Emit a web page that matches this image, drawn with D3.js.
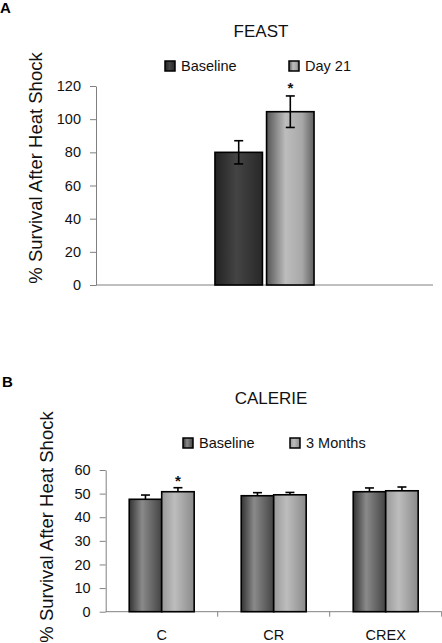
<!DOCTYPE html>
<html><head><meta charset="utf-8">
<script src="https://cdn.jsdelivr.net/npm/d3@7"></script>
<style>body{margin:0;background:#fff}svg{display:block;font-family:"Liberation Sans",Arial,sans-serif}</style>
</head><body><svg id="c" width="442" height="643"></svg>
<script>
// ---- Data ----
const feastCategories = ["FEAST"];
const feastSeries = ["Baseline", "Day 21"];
const feastValues = [[80.0, 104.5]];
const feastErrors = [[7.0, 9.5]];
const feastStars = [[false, true]];
const feastTicks = [0, 20, 40, 60, 80, 100, 120];

const calerieCategories = ["C", "CR", "CREX"];
const calerieSeries = ["Baseline", "3 Months"];
const calerieValues = [[47.6, 50.8], [49.1, 49.5], [50.8, 51.2]];
const calerieErrors = [[1.8, 1.7], [1.3, 1.0], [1.6, 1.6]];
const calerieStars = [[false, true], [false, false], [false, false]];
const calerieTicks = [0, 10, 20, 30, 40, 50, 60];

const svg = d3.select("#c");
const defs = svg.append("defs");
function grad(id, stops) {
  const g = defs.append("linearGradient").attr("id", id).attr("x1", "0%").attr("x2", "100%").attr("y1", "0%").attr("y2", "0%");
  stops.forEach(s => g.append("stop").attr("offset", s[0]).attr("stop-color", s[1]));
}
grad("gA0", [["0%", "#222"], ["45%", "#444"], ["100%", "#282828"]]);
grad("gA1", [["0%", "#555"], ["40%", "#bdbdbd"], ["75%", "#a8a8a8"], ["100%", "#606060"]]);
grad("gB0", [["0%", "#333"], ["40%", "#8a8a8a"], ["100%", "#444"]]);
grad("gB1", [["0%", "#999"], ["40%", "#bdbdbd"], ["100%", "#8a8a8a"]]);

function panel(o) {
  const g = svg.append("g");
  const y = d3.scaleLinear().domain([0, o.ticks[o.ticks.length - 1]]).range([o.y0, o.y1]);
  const x0 = d3.scaleBand().domain(o.cats).range([o.xl, o.xr]).padding(0);
  const bw = x0.bandwidth(), gw = bw * o.frac;
  const x1 = d3.scaleBand().domain(o.series).range([(bw - gw) / 2, (bw + gw) / 2]).paddingInner(o.inner);

  // panel letter & title
  g.append("text").attr("x", o.letterX).attr("y", o.letterY).attr("font-weight", "bold").attr("font-size", 15).text(o.letter);
  g.append("text").attr("x", o.titleX).attr("y", o.titleY).attr("text-anchor", "middle").attr("font-size", 17).attr("fill", "#111").text(o.title);

  // legend
  o.series.forEach((s, i) => {
    const lx = o.legX[i];
    g.append("rect").attr("x", lx).attr("y", o.legY).attr("width", 10).attr("height", 10)
      .attr("fill", `url(#${o.grads[i]})`).attr("stroke", "#000").attr("stroke-width", 1.5);
    g.append("text").attr("x", lx + 16).attr("y", o.legY + 10).attr("font-size", 14.5).attr("fill", "#111").text(s);
  });

  // y axis
  const ya = g.append("g").attr("transform", `translate(${o.xl},0)`)
    .call(d3.axisLeft(y).tickValues(o.ticks).tickSize(6).tickPadding(o.tickPad).tickSizeOuter(0));
  ya.select(".domain").attr("stroke", "#808080");
  ya.selectAll(".tick line").attr("stroke", "#808080");
  ya.selectAll(".tick text").attr("font-size", 14.5).attr("fill", "#111").attr("font-family", "Liberation Sans, Arial, sans-serif");

  // x axis
  g.append("line").attr("x1", o.xl).attr("x2", o.xr).attr("y1", y(0)).attr("y2", y(0)).attr("stroke", "#808080");
  if (o.catTicks) {
    o.cats.forEach((c, i) => {
      const xe = x0(c) + bw;
      g.append("line").attr("x1", xe).attr("x2", xe).attr("y1", y(0)).attr("y2", y(0) + 5).attr("stroke", "#808080");
      g.append("text").attr("x", x0(c) + bw / 2).attr("y", o.catY).attr("text-anchor", "middle")
        .attr("font-size", 14.5).attr("fill", "#111").text(c);
    });
  }

  // y label
  g.append("text").attr("transform", `translate(${o.ylabX},${o.ylabY}) rotate(-90)`).attr("text-anchor", "middle")
    .attr("font-size", 18.5).attr("fill", "#111").text("% Survival After Heat Shock");

  // bars
  o.cats.forEach((c, ci) => {
    o.series.forEach((s, si) => {
      const v = o.values[ci][si], e = o.errors[ci][si];
      const bx = x0(c) + x1(s), w = x1.bandwidth(), cx = bx + w / 2;
      g.append("rect").attr("x", bx).attr("y", y(v)).attr("width", w).attr("height", y(0) - y(v))
        .attr("fill", `url(#${o.grads[si]})`).attr("stroke", "#000").attr("stroke-width", 1.6);
      const lo = o.bothErr ? v - e : v;
      g.append("line").attr("x1", cx).attr("x2", cx).attr("y1", y(v + e)).attr("y2", y(lo)).attr("stroke", "#000").attr("stroke-width", 1.6);
      g.append("line").attr("x1", cx - 4.5).attr("x2", cx + 4.5).attr("y1", y(v + e)).attr("y2", y(v + e)).attr("stroke", "#000").attr("stroke-width", 1.6);
      if (o.bothErr) g.append("line").attr("x1", cx - 4.5).attr("x2", cx + 4.5).attr("y1", y(lo)).attr("y2", y(lo)).attr("stroke", "#000").attr("stroke-width", 1.6);
      if (o.stars[ci][si]) {
        g.append("text").attr("x", cx).attr("y", y(v + e) - o.starGap).attr("text-anchor", "middle")
          .attr("font-size", 15).attr("font-weight", "bold").attr("fill", "#111").text("*");
      }
    });
  });
}

panel({
  cats: feastCategories, series: feastSeries, values: feastValues, errors: feastErrors, stars: feastStars,
  ticks: feastTicks, y0: 285, y1: 86, xl: 96, xr: 433, frac: 0.294, inner: 0.08,
  letter: "A", letterX: 0, letterY: 13, title: "FEAST", titleX: 261, titleY: 37,
  legX: [165, 289], legY: 61, grads: ["gA0", "gA1"], tickPad: 9,
  catTicks: false, ylabX: 42, ylabY: 168, bothErr: true, starGap: 3
});

panel({
  cats: calerieCategories, series: calerieSeries, values: calerieValues, errors: calerieErrors, stars: calerieStars,
  ticks: calerieTicks, y0: 611.7, y1: 470, xl: 105.7, xr: 441.7, frac: 0.58, inner: 0,
  letter: "B", letterX: 2, letterY: 387, title: "CALERIE", titleX: 271, titleY: 404,
  legX: [183, 290], legY: 438, grads: ["gB0", "gB1"], tickPad: 9,
  catTicks: true, catY: 639.5, ylabX: 53, ylabY: 527, bothErr: false, starGap: 2
});
</script></body></html>
